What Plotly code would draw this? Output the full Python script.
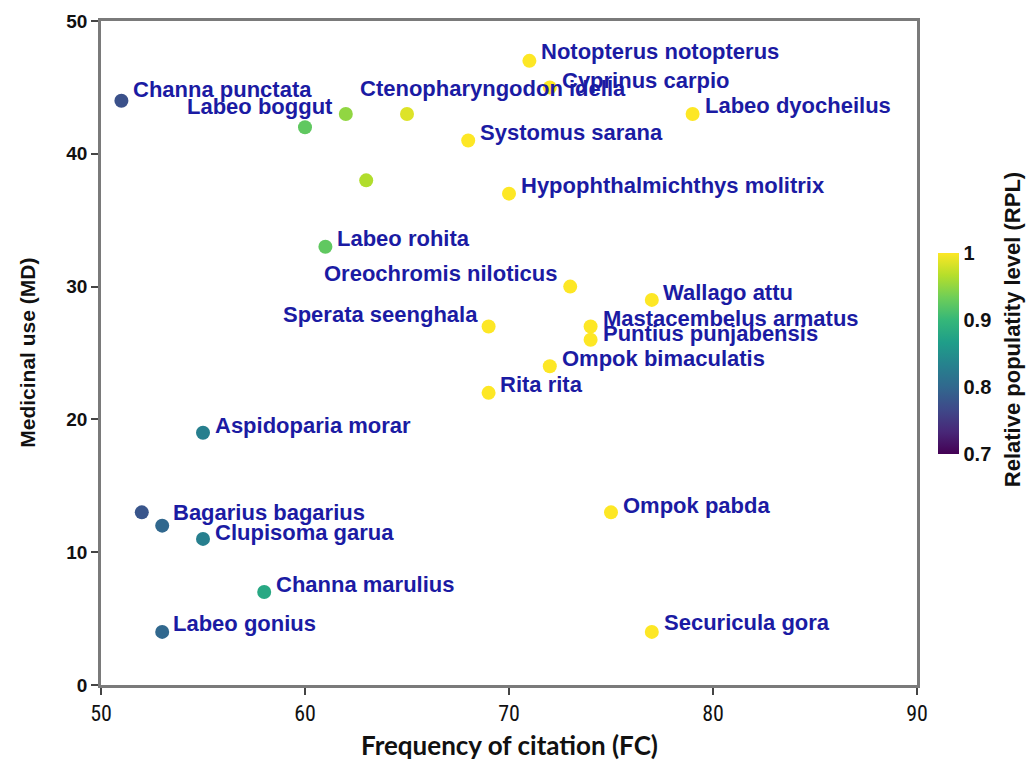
import plotly.graph_objects as go

# Frequency of citation (FC), medicinal use (MD) and relative popularity level (RPL)
species = [
    "Channa punctata", None, "Labeo boggut", "Ctenopharyngodon idella", None,
    "Notopterus notopterus", "Cyprinus carpio", "Labeo dyocheilus", "Systomus sarana",
    "Hypophthalmichthys molitrix", "Labeo rohita", "Oreochromis niloticus", "Wallago attu",
    "Sperata seenghala", "Mastacembelus armatus", "Puntius punjabensis", "Ompok bimaculatis",
    "Rita rita", "Aspidoparia morar", None, "Bagarius bagarius", "Clupisoma garua",
    "Channa marulius", "Labeo gonius", "Ompok pabda", "Securicula gora",
]
fc = [51, 60, 62, 65, 63, 71, 72, 79, 68, 70, 61, 73, 77, 69, 74, 74, 72, 69, 55, 52, 53, 55, 58, 53, 75, 77]
md = [44, 42, 43, 43, 38, 47, 45, 43, 41, 37, 33, 30, 29, 27, 27, 26, 24, 22, 19, 13, 12, 11, 7, 4, 13, 4]
rpl = [0.775, 0.925, 0.95, 0.985, 0.965, 1.0, 1.0, 1.0, 1.0, 1.0, 0.925, 1.0, 1.0, 1.0, 1.0, 1.0,
       1.0, 1.0, 0.83, 0.78, 0.80, 0.83, 0.88, 0.80, 1.0, 1.0]

# label placement: (anchor, x offset px, y offset px)
label_pos = {
    "Channa punctata": ("left", 10, 11),
    "Labeo boggut": ("right", -11, 7),
    "Ctenopharyngodon idella": ("left", -49, 25),
    "Notopterus notopterus": ("left", 10, 9),
    "Cyprinus carpio": ("left", 10, 7),
    "Labeo dyocheilus": ("left", 10, 8),
    "Systomus sarana": ("left", 10, 8),
    "Hypophthalmichthys molitrix": ("left", 10, 8),
    "Labeo rohita": ("left", 10, 8),
    "Oreochromis niloticus": ("right", -10, 13),
    "Wallago attu": ("left", 9, 7),
    "Sperata seenghala": ("right", -9, 12),
    "Mastacembelus armatus": ("left", 10, 8),
    "Puntius punjabensis": ("left", 10, 6),
    "Ompok bimaculatis": ("left", 10, 8),
    "Rita rita": ("left", 9, 8),
    "Aspidoparia morar": ("left", 10, 7),
    "Bagarius bagarius": ("left", 9, 13),
    "Clupisoma garua": ("left", 10, 6),
    "Channa marulius": ("left", 10, 8),
    "Labeo gonius": ("left", 9, 8),
    "Ompok pabda": ("left", 10, 7),
    "Securicula gora": ("left", 10, 9),
}

SANS = "Arial, Liberation Sans, sans-serif"
label_font = dict(family=SANS, size=22, color="#1b1ba3", weight="bold")

fig = go.Figure()
fig.add_trace(go.Scatter(
    x=fc, y=md, mode="markers",
    marker=dict(
        size=14, color=rpl, colorscale="Viridis", cmin=0.7, cmax=1.0,
        line=dict(width=0),
        colorbar=dict(
            x=1.0135, xanchor="left", y=0.5, yanchor="middle", len=0.333,
            thickness=21, outlinewidth=0, ticks="",
            tickvals=[0.7, 0.8, 0.9, 1.0], ticktext=["0.7", "0.8", "0.9", "1"],
            tickfont=dict(family=SANS, size=20, color="#111111", weight="bold"),
        ),
    ),
    showlegend=False, hoverinfo="skip",
))

annotations = []
for name, xv, yv in zip(species, fc, md):
    if not name:
        continue
    anchor, dx, dy = label_pos[name]
    annotations.append(dict(
        x=xv, y=yv, xref="x", yref="y", text=name, showarrow=False,
        xanchor=anchor, yanchor="middle", xshift=dx, yshift=dy, font=label_font,
    ))

annotations.append(dict(
    x=0.5, y=-0.09, xref="paper", yref="paper", text="Frequency of citation (FC)",
    showarrow=False, xanchor="center", yanchor="middle",
    font=dict(family="Lato, Open Sans, sans-serif", size=26, color="#111111", weight="bold"),
))
annotations.append(dict(
    x=-0.091, y=0.5, xref="paper", yref="paper", text="Medicinal use (MD)",
    showarrow=False, xanchor="center", yanchor="middle", textangle=-90,
    font=dict(family=SANS, size=21, color="#111111", weight="bold"),
))
annotations.append(dict(
    x=1.117, y=0.535, xref="paper", yref="paper", text="Relative populatity level (RPL)",
    showarrow=False, xanchor="center", yanchor="middle", textangle=-90,
    font=dict(family=SANS, size=22, color="#111111", weight="bold"),
))

axis_common = dict(
    showgrid=False, zeroline=False, showline=True, linecolor="#7a7a7a", linewidth=2.5,
    mirror=True, ticks="outside", ticklen=7, tickwidth=1.5, tickcolor="#444444",
)

fig.update_layout(
    width=1028, height=764,
    margin=dict(l=101, r=111, t=21, b=79),
    paper_bgcolor="white", plot_bgcolor="white",
    xaxis=dict(range=[50, 90], tickvals=[50, 60, 70, 80, 90],
               tickfont=dict(family="Liberation Sans Narrow, Roboto Condensed, Roboto, sans-serif",
                             size=22, color="#111111"),
               **axis_common),
    yaxis=dict(range=[0, 50], tickvals=[0, 10, 20, 30, 40, 50],
               tickfont=dict(family=SANS, size=19, color="#111111", weight="bold"),
               **axis_common),
    annotations=annotations,
)

fig.write_html("out.html")
